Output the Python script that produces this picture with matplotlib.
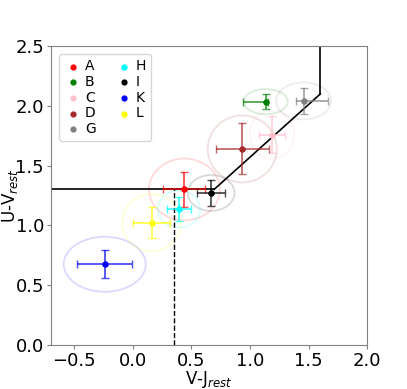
import numpy as np
import matplotlib
matplotlib.use('Agg')
import matplotlib.pyplot as plt
from matplotlib.patches import Ellipse

labels = ['A', 'B', 'C', 'D', 'G', 'H', 'I', 'K', 'L']
colors = ['red', 'green', 'pink', 'brown', 'gray', 'cyan', 'black', 'blue', 'yellow']
vj = [0.44, 1.134, 1.188, 0.934, 1.457, 0.394, 0.668, -0.24, 0.16]
uv = [1.30, 2.034, 1.758, 1.639, 2.04, 1.137, 1.271, 0.675, 1.023]
vj_err_lo = [0.18, 0.19, 0.113, 0.225, 0.06, 0.103, 0.118, 0.236, 0.157]
vj_err_hi = [0.18, 0.02, 0.113, 0.225, 0.21, 0.103, 0.118, 0.236, 0.157]
uv_err = [0.15, 0.064, 0.156, 0.213, 0.11, 0.10, 0.107, 0.117, 0.127]
ell_w = [0.605, 0.377, 0.38, 0.59, 0.47, 0.36, 0.40, 0.70, 0.50]
ell_h = [0.516, 0.21, 0.40, 0.56, 0.31, 0.31, 0.30, 0.46, 0.48]

# UVJ selection box
uv_cut = 1.3
vj_cut = 1.6
slope, icpt = 0.88, 0.69
vj_dash = 0.35

fig = plt.figure(figsize=(4.07, 3.89), dpi=100)
ax = fig.add_axes([0.125, 0.113, 0.777, 0.769])

for i in range(len(labels)):
    ax.errorbar(vj[i], uv[i], xerr=[[vj_err_lo[i]], [vj_err_hi[i]]], yerr=uv_err[i],
                fmt='o', color=colors[i], ms=3.5, capsize=3, elinewidth=1.3,
                alpha=0.7, zorder=3)
    ax.scatter(vj[i], uv[i], s=12, color=colors[i], label=labels[i], zorder=4)
    e = Ellipse((vj[i], uv[i]), ell_w[i], ell_h[i], facecolor='none',
                edgecolor=colors[i], alpha=0.15, lw=1.3)
    ax.add_patch(e)

x_kink = (uv_cut - icpt) / slope
ax.plot([-0.7, x_kink], [uv_cut, uv_cut], color='k', lw=1.2)
ax.plot([x_kink, vj_cut], [uv_cut, slope * vj_cut + icpt], color='k', lw=1.2)
ax.plot([vj_cut, vj_cut], [slope * vj_cut + icpt, 2.5], color='k', lw=1.2)
ax.plot([vj_dash, vj_dash], [0, uv_cut], color='k', lw=1.0, ls='--')

ax.set_xlim(-0.7, 2.0)
ax.set_ylim(0, 2.5)
ax.set_xticks([-0.5, 0.0, 0.5, 1.0, 1.5, 2.0])
ax.set_yticks([0.0, 0.5, 1.0, 1.5, 2.0, 2.5])
ax.tick_params(labelsize=13, length=3, color='gray', pad=2)
for s in ax.spines.values():
    s.set_color('gray')
ax.set_xlabel('V-J$_{rest}$', fontsize=12, labelpad=-1)
ax.set_ylabel('U-V$_{rest}$', fontsize=12)
ax.yaxis.set_label_coords(-0.097, 0.5)

ax.legend(loc='upper left', ncol=2, fontsize=10, handletextpad=0.3,
          columnspacing=1.4, labelspacing=0.12, borderpad=0.35,
          handlelength=1.2, bbox_to_anchor=(0.005, 0.995))

fig.savefig('out.png', dpi=100)
